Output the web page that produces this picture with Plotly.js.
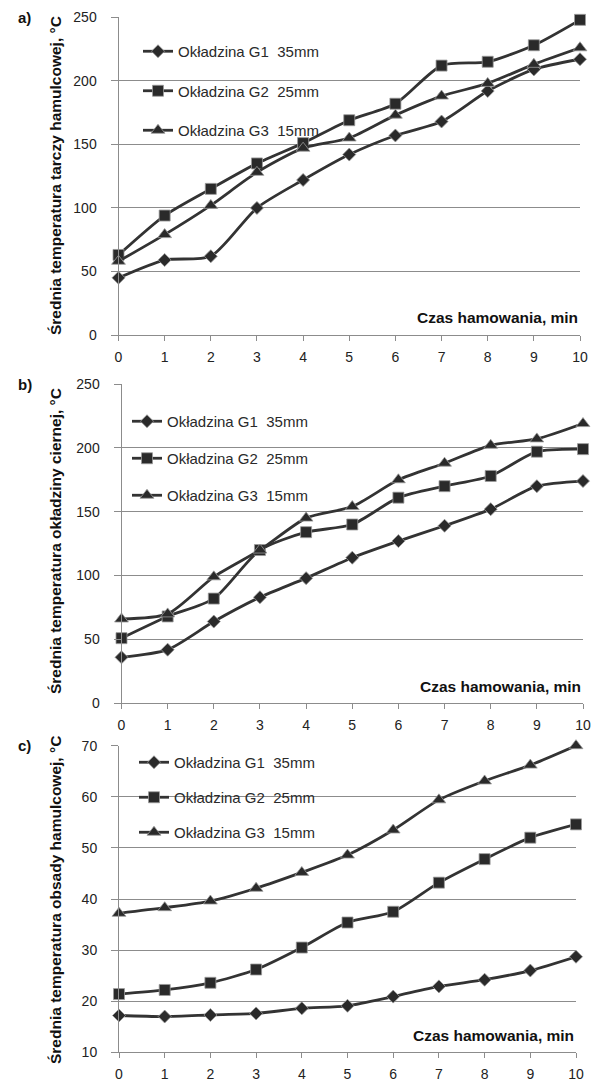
<!DOCTYPE html>
<html>
<head>
<meta charset="utf-8">
<script src="https://cdn.plot.ly/plotly-3.0.1.min.js"></script>
<style>html,body{margin:0;padding:0;background:#fff;}#chart{width:599px;height:1082px;}</style>
</head>
<body>
<div id="chart"></div>
<script>
// ---- data ----
const minutes = [0, 1, 2, 3, 4, 5, 6, 7, 8, 9, 10];
const seriesNames = ['Okładzina G1  35mm', 'Okładzina G2  25mm', 'Okładzina G3  15mm'];
const panelLabels = ['a)', 'b)', 'c)'];
const yTitles = [
  'Średnia temperatura tarczy hamulcowej, °C',
  'Średnia temperatura okładziny ciernej, °C',
  'Średnia temperatura obsady hamulcowej, °C'
];
const xTitle = 'Czas hamowania, min';

// a) brake disc
const discG1 = [45, 59, 62, 100, 122, 142, 157, 168, 192, 209, 217];
const discG2 = [63, 94, 115, 135, 151, 169, 182, 212, 215, 228, 248];
const discG3 = [58, 79, 102, 128, 147, 155, 173, 188, 198, 213, 226];
// b) friction lining
const liningG1 = [36, 42, 64, 83, 98, 114, 127, 139, 152, 170, 174];
const liningG2 = [51, 68, 82, 120, 134, 140, 161, 170, 178, 197, 199];
const liningG3 = [66, 70, 99, 120, 145, 154, 175, 188, 202, 207, 219];
// c) brake holder
const holderG1 = [17.2, 17.0, 17.3, 17.6, 18.6, 19.1, 20.9, 22.9, 24.2, 26.0, 28.7];
const holderG2 = [21.4, 22.2, 23.6, 26.2, 30.5, 35.4, 37.5, 43.2, 47.8, 52.0, 54.6];
const holderG3 = [37.2, 38.3, 39.6, 42.1, 45.2, 48.6, 53.5, 59.4, 63.1, 66.2, 70.0];

const panels = [[discG1, discG2, discG3], [liningG1, liningG2, liningG3], [holderG1, holderG2, holderG3]];

// ---- styling ----
const W = 599, H = 1082;
const symbols = ['diamond', 'square', 'triangle-up'];
const msizes = [10, 11, 12];
const lineColor = '#333333';
const gridColor = '#8c8c8c';
const fontFam = '"Liberation Sans", Arial, sans-serif';

// pixel geometry of plot areas [left, right, top, bottom]
const boxes = [
  [118.5, 580, 17.3, 335],
  [121.5, 583, 384, 703.3],
  [119, 576, 745.7, 1052.3]
];
const yRanges = [[0, 250], [0, 250], [10, 70]];
const yDtick = [50, 50, 10];
const legendTop = [35, 405, 746];
const legendGap = [17, 14.5, 12.5];
const legendLeft = [138, 127, 134];
const yTitleCenter = [176, 541, 900];

const traces = [];
panels.forEach((series, p) => {
  series.forEach((vals, s) => {
    traces.push({
      x: minutes, y: vals, type: 'scatter', mode: 'lines+markers',
      name: seriesNames[s],
      xaxis: p === 0 ? 'x' : 'x' + (p + 1),
      yaxis: p === 0 ? 'y' : 'y' + (p + 1),
      legend: p === 0 ? 'legend' : 'legend' + (p + 1),
      legendgroup: 'p' + p + 's' + s,
      cliponaxis: false,
      line: {color: lineColor, width: 2.8, shape: 'spline', smoothing: 0.7},
      marker: {symbol: symbols[s], size: msizes[s], color: '#2a2a2a', line: {color: '#9a9a9a', width: 0.8}}
    });
  });
});

const layout = {
  width: W, height: H,
  margin: {l: 0, r: 0, t: 0, b: 0},
  paper_bgcolor: '#ffffff', plot_bgcolor: '#ffffff',
  font: {family: fontFam, color: '#222222', size: 14},
  showlegend: true,
  annotations: [],
  hovermode: false
};

boxes.forEach((b, p) => {
  const xs = p === 0 ? '' : String(p + 1);
  layout['xaxis' + xs] = {
    domain: [b[0] / W, b[1] / W],
    anchor: 'y' + xs,
    range: [0, 10], tickvals: minutes, ticktext: minutes.map(String),
    showgrid: false, zeroline: false,
    showline: true, linecolor: gridColor, linewidth: 1,
    ticks: 'outside', ticklen: 5, tickcolor: gridColor,
    tickfont: {family: fontFam, size: 14, color: '#222'},
    ticklabelstandoff: 4,
    fixedrange: true
  };
  layout['yaxis' + xs] = {
    domain: [1 - b[3] / H, 1 - b[2] / H],
    anchor: 'x' + xs,
    range: yRanges[p], dtick: yDtick[p], tick0: 0,
    showgrid: true, gridcolor: gridColor, gridwidth: 1,
    zeroline: false,
    showline: true, linecolor: gridColor, linewidth: 1,
    ticks: 'outside', ticklen: 7, tickcolor: gridColor,
    tickfont: {family: fontFam, size: 14, color: '#222'},
    ticklabelstandoff: 11,
    fixedrange: true
  };
  const lg = p === 0 ? 'legend' : 'legend' + (p + 1);
  layout[lg] = {
    x: legendLeft[p] / W, y: 1 - legendTop[p] / H,
    xanchor: 'left', yanchor: 'top',
    bgcolor: 'rgba(255,255,255,0)', borderwidth: 0,
    font: {family: fontFam, size: 15, color: '#2a2a2a'},
    tracegroupgap: legendGap[p],
    traceorder: 'grouped',
    itemwidth: 30
  };
  // panel label
  layout.annotations.push({
    text: '<b>' + panelLabels[p] + '</b>', xref: 'paper', yref: 'paper',
    x: 16 / W, y: 1 - (b[2] + 0) / H, xanchor: 'left', yanchor: 'middle',
    showarrow: false, font: {family: fontFam, size: 15, color: '#111'}
  });
  // y axis title
  layout.annotations.push({
    text: '<b>' + yTitles[p] + '</b>', xref: 'paper', yref: 'paper',
    x: 55 / W, y: 1 - yTitleCenter[p] / H, xanchor: 'center', yanchor: 'middle',
    textangle: -90, showarrow: false, font: {family: fontFam, size: 15.5, color: '#111'}
  });
  // x axis title inside plot
  layout.annotations.push({
    text: '<b>' + xTitle + '</b>', xref: 'paper', yref: 'paper',
    x: b[1] / W, y: 1 - (b[3] - 17) / H, xanchor: 'right', yanchor: 'middle',
    showarrow: false, font: {family: fontFam, size: 15.5, color: '#111'}
  });
});

Plotly.newPlot('chart', traces, layout, {displayModeBar: false, staticPlot: true});
</script>
</body>
</html>
